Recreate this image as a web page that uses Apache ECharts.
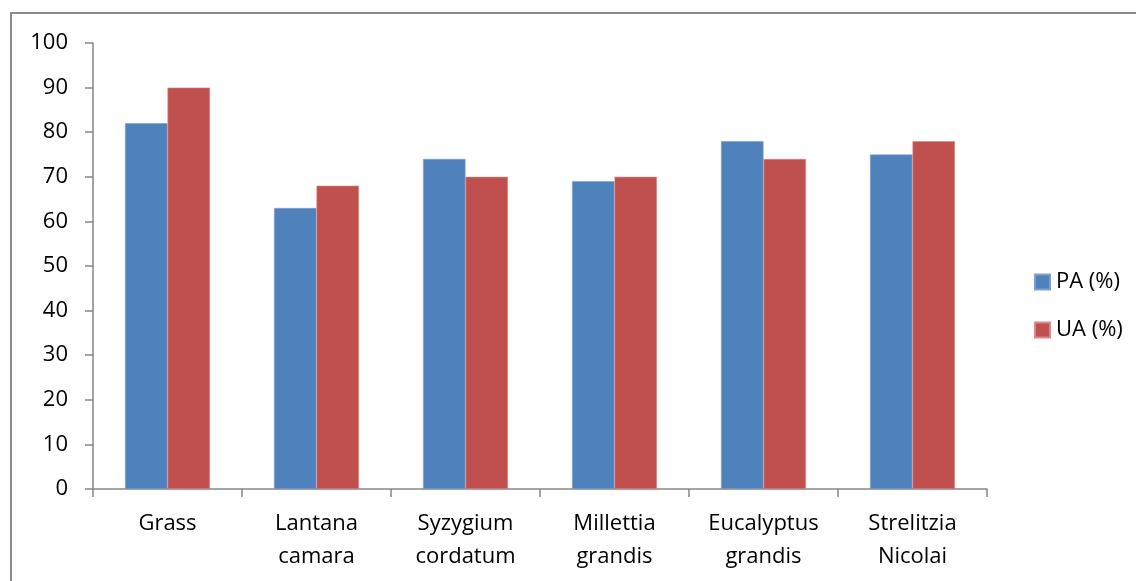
<!DOCTYPE html>
<html>
<head>
<meta charset="utf-8">
<style>
  html, body { margin: 0; padding: 0; background: #fff; }
  #chart { width: 1136px; height: 581px; }
</style>
<script src="https://cdn.jsdelivr.net/npm/echarts@6/dist/echarts.min.js"></script>
</head>
<body>
<div id="chart"></div>
<script>
// Species classes and their accuracy figures
const categories = ['Grass', 'Lantana\ncamara', 'Syzygium\ncordatum', 'Millettia\ngrandis', 'Eucalyptus\ngrandis', 'Strelitzia\nNicolai'];
const paValues = [82, 63, 74, 69, 78, 75];
const uaValues = [90, 68, 70, 70, 74, 78];
const yTicks = { min: 0, max: 100, interval: 10 };

const fontFamily = '"Open Sans", "Noto Sans", sans-serif';
const fontSize = 22;
const axisGray = '#868686';

const chart = echarts.init(document.getElementById('chart'));
chart.setOption({
  animation: false,
  backgroundColor: '#fff',
  graphic: [{
    type: 'rect',
    shape: { x: 11, y: 13, width: 1140, height: 600 },
    style: { fill: 'none', stroke: '#8a8a8a', lineWidth: 2 },
    silent: true
  }],
  grid: { left: 93, top: 43, right: 149, bottom: 92, containLabel: false },
  legend: {
    orient: 'vertical',
    left: 1029,
    top: 266,
    itemWidth: 15,
    itemHeight: 15,
    itemGap: 26,
    icon: 'rect',
    textStyle: { fontFamily, fontSize, color: '#000', padding: [0, 0, 0, 1] },
    data: ['PA (%)', 'UA (%)']
  },
  xAxis: {
    type: 'category',
    data: categories,
    axisLine: { lineStyle: { color: axisGray, width: 1.5 } },
    axisTick: { show: true, length: 8, inside: false, lineStyle: { color: axisGray, width: 1.5 } },
    axisLabel: { fontFamily, fontSize, color: '#000', lineHeight: 33, margin: 18, interval: 0 },
    splitLine: { show: false }
  },
  yAxis: {
    type: 'value',
    min: yTicks.min,
    max: yTicks.max,
    interval: yTicks.interval,
    axisLine: { show: true, lineStyle: { color: axisGray, width: 1.5 } },
    axisTick: { show: true, length: 8, lineStyle: { color: axisGray, width: 1.5 } },
    axisLabel: { fontFamily, fontSize, color: '#000', margin: 25 },
    splitLine: { show: false }
  },
  series: [
    {
      name: 'PA (%)',
      type: 'bar',
      data: paValues,
      barGap: '0%',
      barCategoryGap: '43%',
      itemStyle: { color: '#4F81BD', borderColor: '#7ea0cf', borderWidth: 0.6 }
    },
    {
      name: 'UA (%)',
      type: 'bar',
      data: uaValues,
      itemStyle: { color: '#C0504D', borderColor: '#d88a88', borderWidth: 0.6 }
    }
  ]
});
</script>
</body>
</html>
